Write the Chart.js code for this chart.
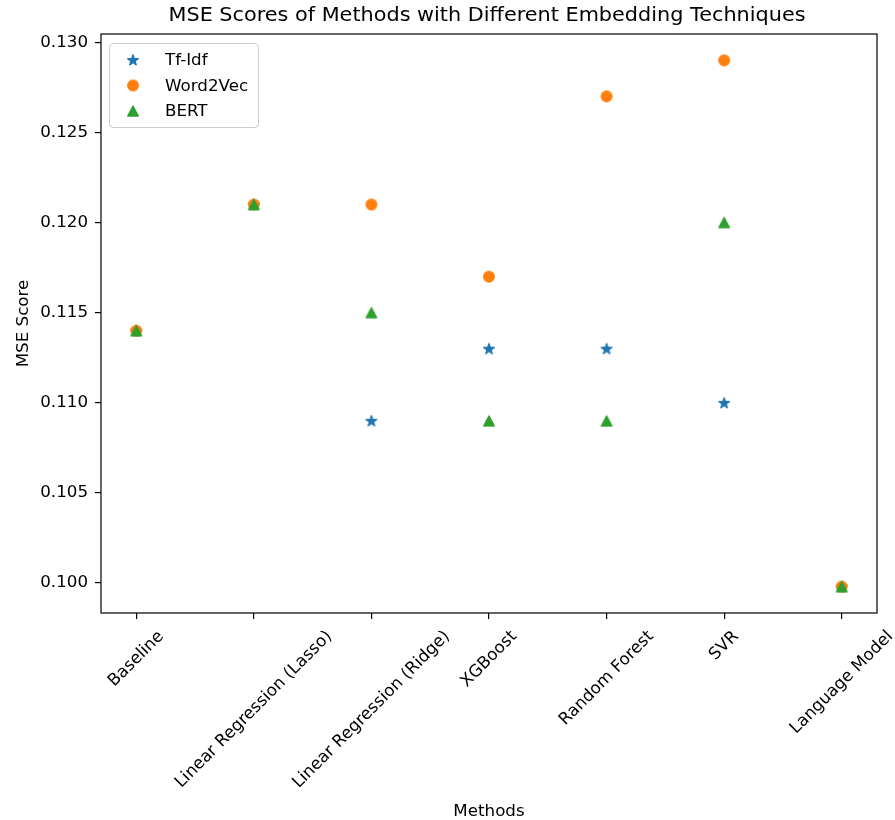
<!DOCTYPE html>
<html>
<head>
<meta charset="utf-8">
<script src="https://cdn.jsdelivr.net/npm/chart.js@4"></script>
<style>
  html, body { margin: 0; padding: 0; background: #ffffff; }
  canvas { display: block; }
</style>
</head>
<body>
<canvas id="chart" width="895" height="820"></canvas>
<script>
// Methods on the x axis
const methods = ['Baseline', 'Linear Regression (Lasso)', 'Linear Regression (Ridge)', 'XGBoost', 'Random Forest', 'SVR', 'Language Model'];

// MSE per method for each embedding
const tfidf    = [0.114, 0.121, 0.109, 0.113, 0.113, 0.110, 0.0998];
const word2vec = [0.114, 0.121, 0.121, 0.117, 0.127, 0.129, 0.0998];
const bert     = [0.114, 0.121, 0.115, 0.109, 0.109, 0.120, 0.0998];

const seriesNames = ['Tf-Idf', 'Word2Vec', 'BERT'];
const yTicks = [0.100, 0.105, 0.110, 0.115, 0.120, 0.125, 0.130];

const chartTitle = 'MSE Scores of Methods with Different Embedding Techniques';
const xTitle = 'Methods';
const yTitle = 'MSE Score';

const FONT = "'DejaVu Sans', sans-serif";
const LABEL_SIZE = 16.7;
const COLORS = ['#1f77b4', '#ff7f0e', '#2ca02c'];

// Filled marker sprites: star, circle, triangle-up
function makeMarker(kind, color) {
  const c = document.createElement('canvas');
  c.width = 16; c.height = 16;
  const g = c.getContext('2d');
  g.fillStyle = color; g.strokeStyle = color; g.lineWidth = 1.3; g.lineJoin = 'round';
  g.translate(8, 8);
  g.beginPath();
  if (kind === 'circle') {
    g.arc(0, 0, 5.3, 0, Math.PI * 2);
  } else if (kind === 'triangle') {
    g.moveTo(0, -5.0);
    g.lineTo(-5.3, 5.0);
    g.lineTo(5.3, 5.0);
    g.closePath();
  } else {
    const R = 5.6, r = R * 0.382;
    for (let k = 0; k < 10; k++) {
      const rad = (k % 2 === 0) ? R : r;
      const a = -Math.PI / 2 + k * Math.PI / 5;
      const px = rad * Math.cos(a), py = rad * Math.sin(a) + 0.4;
      if (k === 0) g.moveTo(px, py); else g.lineTo(px, py);
    }
    g.closePath();
  }
  g.fill(); g.stroke();
  return c;
}

const markers = [makeMarker('star', COLORS[0]), makeMarker('circle', COLORS[1]), makeMarker('triangle', COLORS[2])];
const seriesValues = [tfidf, word2vec, bert];

const datasets = seriesValues.map((vals, s) => ({
  label: seriesNames[s],
  data: vals.map((v, i) => ({ x: i, y: v })),
  pointStyle: markers[s],
  pointRadius: 6,
  pointHoverRadius: 6,
  backgroundColor: COLORS[s],
  borderColor: COLORS[s],
  showLine: false,
  order: 2 - s
}));

// Frame, rotated category labels, titles and the legend box
const decorations = {
  id: 'decorations',
  afterDraw(chart) {
    const ctx = chart.ctx;
    const area = chart.chartArea;
    const xs = chart.scales.x;

    ctx.save();
    // axes frame
    ctx.strokeStyle = '#000';
    ctx.lineWidth = 1.2;
    ctx.strokeRect(area.left, area.top, area.right - area.left, area.bottom - area.top);

    // rotated category labels, box centered under each tick
    ctx.fillStyle = '#000';
    ctx.font = LABEL_SIZE + 'px ' + FONT;
    ctx.textAlign = 'center';
    ctx.textBaseline = 'middle';
    const y0 = area.bottom + 14;
    const h = 19.5;
    methods.forEach((m, i) => {
      const w = ctx.measureText(m).width;
      const cx = xs.getPixelForValue(i);
      const cy = y0 + (w + h) / (2 * Math.SQRT2);
      ctx.save();
      ctx.translate(cx, cy);
      ctx.rotate(-Math.PI / 4);
      ctx.fillText(m, 0, 0);
      ctx.restore();
    });

    // chart title
    const midX = (area.left + area.right) / 2;
    ctx.font = '20px ' + FONT;
    ctx.textBaseline = 'alphabetic';
    const tw = ctx.measureText(chartTitle).width;
    ctx.save();
    ctx.translate(midX - 2, 21);
    ctx.scale(637 / tw, 1);
    ctx.fillText(chartTitle, 0, 0);
    ctx.restore();

    // x axis title
    ctx.font = LABEL_SIZE + 'px ' + FONT;
    ctx.fillText(xTitle, midX, 816);

    // y axis title
    ctx.save();
    ctx.translate(28, (area.top + area.bottom) / 2);
    ctx.rotate(-Math.PI / 2);
    ctx.fillText(yTitle, 0, 0);
    ctx.restore();

    // legend
    const lx = 109.5, ly = 43.5, lw = 149, lh = 84, rr = 4;
    ctx.beginPath();
    ctx.moveTo(lx + rr, ly);
    ctx.arcTo(lx + lw, ly, lx + lw, ly + lh, rr);
    ctx.arcTo(lx + lw, ly + lh, lx, ly + lh, rr);
    ctx.arcTo(lx, ly + lh, lx, ly, rr);
    ctx.arcTo(lx, ly, lx + lw, ly, rr);
    ctx.closePath();
    ctx.fillStyle = 'rgba(255,255,255,0.8)';
    ctx.fill();
    ctx.strokeStyle = '#cccccc';
    ctx.lineWidth = 1;
    ctx.stroke();

    const rowsMarker = [60, 85.5, 111];
    const rowsText = [65, 90.5, 116];
    ctx.font = LABEL_SIZE + 'px ' + FONT;
    ctx.textAlign = 'left';
    ctx.fillStyle = '#000';
    chart.data.datasets.forEach((ds, s) => {
      const img = ds.pointStyle;
      ctx.drawImage(img, 133 - img.width / 2, rowsMarker[s] - img.height / 2);
      ctx.fillText(ds.label, 165, rowsText[s]);
    });
    ctx.restore();
  }
};

new Chart(document.getElementById('chart'), {
  type: 'scatter',
  data: { datasets },
  options: {
    responsive: false,
    animation: false,
    devicePixelRatio: 1,
    layout: { padding: { top: 34, right: 18, left: 0, bottom: 0 } },
    plugins: {
      legend: { display: false },
      title: { display: false },
      tooltip: { enabled: false }
    },
    scales: {
      x: {
        type: 'linear',
        min: -0.3,
        max: 6.3,
        afterBuildTicks: (scale) => { scale.ticks = methods.map((_, i) => ({ value: i })); },
        afterFit: (scale) => { scale.height = 207; },
        ticks: { display: false },
        grid: { drawOnChartArea: false, drawTicks: true, tickLength: 6, color: '#000', lineWidth: 1.2 },
        border: { display: false }
      },
      y: {
        type: 'linear',
        min: 0.09834,
        max: 0.13046,
        afterBuildTicks: (scale) => { scale.ticks = yTicks.map(v => ({ value: v })); },
        afterFit: (scale) => { scale.width = 101; },
        ticks: {
          color: '#000',
          padding: 7,
          font: { family: FONT, size: LABEL_SIZE },
          callback: (v) => Number(v).toFixed(3)
        },
        grid: { drawOnChartArea: false, drawTicks: true, tickLength: 6, color: '#000', lineWidth: 1.2 },
        border: { display: false }
      }
    }
  },
  plugins: [decorations]
});
</script>
</body>
</html>
